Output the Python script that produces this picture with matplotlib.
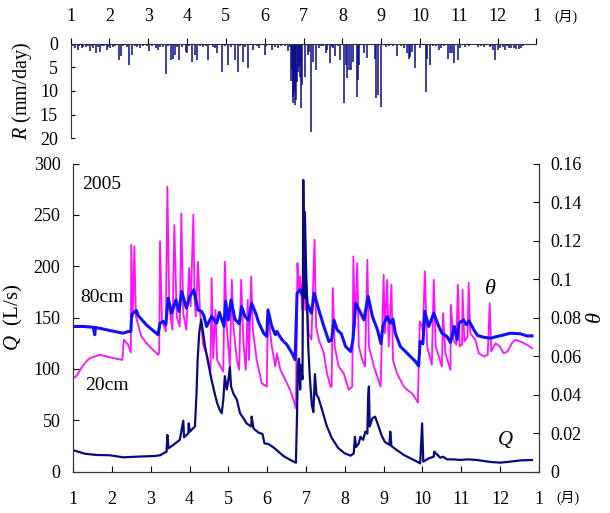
import numpy as np
import matplotlib
matplotlib.use("Agg")
import matplotlib.pyplot as plt

plt.rcParams['font.family'] = ['Liberation Serif', 'Noto Sans CJK JP']
plt.rcParams['mathtext.fontset'] = 'custom'
plt.rcParams['mathtext.rm'] = 'Liberation Serif'
plt.rcParams['mathtext.it'] = 'Liberation Serif:italic'

# time axis is in months (1 = Jan 1st, 13 = next Jan 1st)
month_ticks = list(range(1, 14))
month_labels = [str(m) for m in range(1, 13)] + ['1']

# rainfall R (mm/day)
rain_t = [1.02, 1.12, 1.19, 1.29, 1.40, 1.50, 1.59, 1.66, 1.76, 1.93, 2.02, 2.10,
          2.25, 2.30, 2.51, 2.59, 2.79, 3.03, 3.20, 3.26, 3.45, 3.60, 3.65, 3.69,
          3.80, 3.97, 4.01, 4.12, 4.20, 4.27, 4.55, 4.73, 4.78, 4.89, 5.06, 5.23,
          5.32, 5.43, 5.57, 5.70, 5.86, 6.00, 6.19, 6.34, 6.60, 6.69, 6.71, 6.72,
          6.74, 6.75, 6.77, 6.79, 6.81, 6.83, 6.85, 6.88, 6.90, 6.92, 6.94, 6.97,
          7.04, 7.11, 7.15, 7.20, 7.24, 7.31, 7.39, 7.57, 7.60, 7.67, 7.76, 7.82,
          7.93, 8.04, 8.10, 8.13, 8.18, 8.23, 8.27, 8.38, 8.41, 8.44, 8.55, 8.64,
          8.83, 8.87, 8.91, 9.00, 9.13, 9.41, 9.60, 9.66, 9.71, 9.75, 9.79, 9.88,
          9.99, 10.15, 10.19, 10.26, 10.50, 10.55, 10.72, 10.76, 10.82, 10.88,
          10.97, 11.03, 11.15, 11.49, 11.66, 11.79, 11.89, 11.94, 12.00, 12.06,
          12.13, 12.20, 12.29, 12.35, 12.43, 12.48, 12.56, 12.61]
rain_mm = [1.0, 1.0, 1.4, 0.9, 0.7, 1.6, 1.0, 2.1, 1.8, 1.4, 1.0, 0.7,
           3.5, 2.6, 4.6, 2.5, 1.0, 1.6, 0.9, 1.4, 6.5, 3.5, 3.2, 2.5,
           3.5, 1.8, 2.1, 4.0, 2.5, 3.5, 3.5, 1.0, 2.1, 6.1, 4.6, 3.5,
           6.0, 3.9, 5.1, 1.4, 1.0, 2.5, 1.4, 1.0, 1.6, 8.0, 5.3, 12.5,
           11.2, 9.0, 13.0, 10.2, 12.0, 8.1, 6.0, 5.0, 3.9, 7.0, 13.7, 8.8,
           7.0, 2.5, 1.8, 18.7, 3.9, 5.5, 1.05, 2.1, 1.4, 4.2, 1.05, 2.6,
           3.5, 12.6, 4.6, 7.2, 5.6, 5.6, 3.9, 11.2, 7.6, 4.6, 2.1, 3.0,
           3.2, 11.6, 10.9, 13.5, 0.7, 2.6, 1.05, 2.1, 3.2, 2.8, 1.8, 5.1,
           1.05, 10.2, 3.2, 4.6, 1.4, 1.05, 3.2, 2.1, 2.1, 4.2,
           3.5, 1.05, 0.7, 0.7, 0.7, 0.7, 1.4, 3.5, 1.4, 1.05,
           0.7, 1.4, 1.05, 0.9, 1.05, 1.2, 1.2, 0.9]

# light drizzle records
drizzle_t = [1.06, 1.23, 1.33, 1.46, 1.55, 1.70, 1.80, 1.87, 1.97, 2.15, 2.36, 2.45,
             2.66, 2.72, 2.87, 2.96, 3.09, 3.30, 3.39, 3.52, 3.73, 3.86, 4.06, 4.33,
             4.42, 4.50, 4.67, 4.97, 5.14, 5.36, 5.49, 5.79, 6.04, 6.26, 6.43, 6.52,
             6.64, 7.45, 7.50, 7.74, 7.88, 9.21, 9.30, 9.52, 10.33, 10.42, 10.63,
             11.27, 11.45, 11.58, 11.70, 11.83, 12.24, 12.52, 12.65]
drizzle_mm = [0.6, 0.5, 0.7, 0.5, 0.6, 0.8, 0.5, 0.6, 0.7, 0.5, 0.6, 0.8,
              0.5, 0.7, 0.6, 0.5, 0.6, 0.8, 0.7, 0.6, 0.8, 0.7, 0.6, 0.5,
              0.7, 0.6, 0.8, 0.5, 0.7, 0.6, 0.8, 0.5, 0.6, 0.7, 0.5, 0.6,
              0.8, 0.6, 0.5, 0.7, 0.6, 0.5, 0.6, 0.5, 0.5, 0.6, 0.5,
              0.5, 0.4, 0.5, 0.4, 0.5, 0.5, 0.4, 0.5]

# discharge Q (L/s)
q_t = [1.00, 1.13, 1.30, 1.60, 1.95, 2.29, 2.63, 3.11, 3.24, 3.41, 3.43, 3.46,
       3.58, 3.75, 3.84, 3.86, 3.97, 3.98, 4.01, 4.14, 4.18, 4.21, 4.25, 4.30,
       4.34, 4.40, 4.48, 4.57, 4.65, 4.71, 4.78, 4.83, 4.87, 4.91, 4.96, 5.00,
       5.04, 5.07, 5.13, 5.22, 5.30, 5.39, 5.47, 5.59, 5.60, 5.65, 5.78, 5.88,
       5.93, 6.03, 6.16, 6.29, 6.42, 6.55, 6.68, 6.74, 6.77, 6.79, 6.82, 6.85,
       6.87, 6.91, 6.93, 6.96, 6.97, 7.02, 7.06, 7.10, 7.15, 7.19, 7.23, 7.27,
       7.32, 7.40, 7.53, 7.66, 7.83, 7.99, 8.15, 8.23, 8.26, 8.29, 8.36, 8.40,
       8.47, 8.53, 8.58, 8.60, 8.62, 8.64, 8.71, 8.78, 8.86, 8.95, 9.03, 9.09,
       9.15, 9.17, 9.20, 9.34, 9.52, 9.69, 9.86, 9.94, 9.99, 10.02, 10.16, 10.29,
       10.30, 10.46, 10.53, 10.63, 10.80, 10.97, 11.15, 11.40, 11.75, 12.00,
       12.26, 12.52, 12.82]
q_val = [21, 19.5, 17.5, 16.3, 16, 14, 14.6, 15.3, 16, 19.5, 35.8, 22.8,
         26, 31, 49.7, 33.5, 37.4, 47, 39, 44, 76, 109, 135, 148,
         138, 122, 106, 89, 76, 67, 60, 57, 70, 93, 80, 89,
         102, 83, 76, 70, 57, 52, 47, 44, 53.6, 42, 38, 36.7,
         27.6, 27, 23.7, 19.5, 15.3, 12.4, 9.8, 8.8, 57, 104, 110, 80,
         104, 90, 284, 169, 253, 169, 120, 91, 65, 58, 95, 75,
         72, 62, 45, 33, 23, 18, 15.6, 17.9, 34, 24, 27.6, 34,
         31, 39, 37, 73, 83, 44, 52, 53.6, 45, 35, 29, 27.6,
         26, 39, 25, 21, 16.3, 13, 9.8, 8.1, 47, 9.8, 13, 14.6,
         19.5, 13.6, 14.6, 12, 12, 11.4, 12, 11.4, 9.5, 8.8,
         9.8, 11, 11.4]

# soil moisture theta at 80 cm depth
th80_t = [1.00, 1.26, 1.52, 1.56, 1.58, 1.95, 2.29, 2.42, 2.49, 2.51, 2.63, 2.68,
          2.89, 3.19, 3.24, 3.32, 3.39, 3.45, 3.54, 3.65, 3.73, 3.80, 3.92, 4.01,
          4.11, 4.22, 4.31, 4.37, 4.44, 4.57, 4.70, 4.77, 4.89, 4.93, 5.00, 5.07,
          5.17, 5.28, 5.34, 5.43, 5.52, 5.60, 5.71, 5.78, 5.91, 5.99, 6.02, 6.12,
          6.21, 6.25, 6.38, 6.51, 6.64, 6.72, 6.77, 6.85, 6.92, 6.97, 7.03, 7.14,
          7.21, 7.33, 7.46, 7.59, 7.66, 7.72, 7.80, 7.91, 8.02, 8.15, 8.21, 8.28,
          8.41, 8.49, 8.60, 8.71, 8.84, 8.93, 8.98, 9.09, 9.17, 9.24, 9.30, 9.43,
          9.56, 9.69, 9.82, 9.90, 9.94, 10.01, 10.06, 10.16, 10.29, 10.42, 10.50,
          10.63, 10.72, 10.82, 10.89, 10.94, 11.06, 11.13, 11.20, 11.32, 11.42,
          11.58, 11.75, 11.92, 12.09, 12.26, 12.52, 12.69, 12.82]
th80_val = [0.0754, 0.0754, 0.0750, 0.0711, 0.0749, 0.0733, 0.0719, 0.0728, 0.0728,
            0.0815, 0.0837, 0.0810, 0.0762, 0.0711, 0.0771, 0.0780, 0.0763, 0.0901,
            0.0823, 0.0892, 0.0832, 0.0936, 0.0849, 0.0910, 0.0944, 0.0840, 0.0832,
            0.0810, 0.0754, 0.0806, 0.0771, 0.0827, 0.0754, 0.0884, 0.0788, 0.0892,
            0.0792, 0.0768, 0.0858, 0.0806, 0.0785, 0.0875, 0.0820, 0.0775, 0.0719,
            0.0702, 0.0840, 0.0754, 0.0711, 0.0728, 0.0685, 0.0659, 0.0615, 0.0581,
            0.0927, 0.0944, 0.0910, 0.1048, 0.0875, 0.0823, 0.0927, 0.0840, 0.0754,
            0.0676, 0.0685, 0.0788, 0.0737, 0.0716, 0.0650, 0.0624, 0.0685, 0.0875,
            0.0823, 0.0788, 0.0910, 0.0806, 0.0737, 0.0665, 0.0754, 0.0806, 0.0771,
            0.0792, 0.0719, 0.0650, 0.0624, 0.0598, 0.0572, 0.0549, 0.0676, 0.0664,
            0.0832, 0.0754, 0.0823, 0.0754, 0.0719, 0.0702, 0.0671, 0.0754, 0.0685,
            0.0771, 0.0788, 0.0763, 0.0783, 0.0737, 0.0707, 0.0698, 0.0693, 0.0702,
            0.0710, 0.0719, 0.0716, 0.0705, 0.0705]

# soil moisture theta at 20 cm depth
th20_t = [1.00, 1.09, 1.21, 1.34, 1.43, 1.69, 1.95, 2.27, 2.31, 2.42, 2.49, 2.50,
          2.54, 2.58, 2.62, 2.68, 2.76, 2.93, 3.19, 3.22, 3.24, 3.29, 3.39, 3.43,
          3.48, 3.56, 3.61, 3.67, 3.75, 3.79, 3.84, 3.92, 3.99, 4.03, 4.10, 4.13,
          4.16, 4.22, 4.27, 4.35, 4.46, 4.54, 4.57, 4.61, 4.67, 4.71, 4.87, 4.91,
          4.96, 5.04, 5.09, 5.13, 5.22, 5.28, 5.33, 5.39, 5.45, 5.50, 5.53, 5.59,
          5.63, 5.73, 5.86, 5.99, 6.02, 6.12, 6.21, 6.25, 6.34, 6.47, 6.59, 6.68,
          6.74, 6.78, 6.81, 6.85, 6.90, 6.94, 6.98, 7.03, 7.07, 7.14, 7.22, 7.26,
          7.33, 7.46, 7.54, 7.63, 7.66, 7.69, 7.74, 7.84, 7.97, 8.10, 8.19, 8.22,
          8.26, 8.32, 8.36, 8.45, 8.52, 8.58, 8.62, 8.75, 8.92, 9.00, 9.03, 9.09,
          9.13, 9.20, 9.24, 9.34, 9.43, 9.52, 9.60, 9.73, 9.84, 9.88, 9.93, 9.99,
          10.01, 10.06, 10.12, 10.24, 10.29, 10.34, 10.50, 10.53, 10.59, 10.72,
          10.73, 10.80, 10.87, 10.91, 10.96, 11.02, 11.03, 11.08, 11.16, 11.19,
          11.23, 11.36, 11.45, 11.58, 11.68, 11.73, 11.77, 11.88, 11.99, 12.09,
          12.19, 12.30, 12.39, 12.52, 12.69, 12.82]
th20_val = [0.0485, 0.0497, 0.0537, 0.0572, 0.0589, 0.0607, 0.0594, 0.0580, 0.0685,
            0.0659, 0.0619, 0.1178, 0.0806, 0.1170, 0.0806, 0.0762, 0.0702, 0.0659,
            0.0607, 0.0620, 0.1196, 0.0789, 0.0728, 0.1480, 0.0858, 0.0737, 0.1280,
            0.0806, 0.0754, 0.1340, 0.0823, 0.0737, 0.1057, 0.0858, 0.1334, 0.0900,
            0.0806, 0.1090, 0.0832, 0.0659, 0.0598, 0.0520, 0.1005, 0.0589, 0.0840,
            0.0580, 0.0520, 0.1090, 0.0754, 0.0546, 0.0996, 0.0754, 0.0580, 0.0529,
            0.0996, 0.0667, 0.0529, 0.0892, 0.0580, 0.1014, 0.0737, 0.0580, 0.0459,
            0.0442, 0.0823, 0.0650, 0.0546, 0.0615, 0.0529, 0.0477, 0.0425, 0.0373,
            0.0329, 0.1083, 0.0927, 0.1014, 0.0840, 0.1170, 0.0840, 0.0890, 0.0719,
            0.0685, 0.1204, 0.0754, 0.0685, 0.0615, 0.0511, 0.0442, 0.0442, 0.0953,
            0.0650, 0.0546, 0.0511, 0.0425, 0.0442, 0.1118, 0.0754, 0.1083, 0.0650,
            0.0580, 0.0546, 0.1100, 0.0650, 0.0546, 0.0442, 0.1022, 0.0719, 0.0996,
            0.0650, 0.0970, 0.0580, 0.0511, 0.0477, 0.0442, 0.0425, 0.0407, 0.0373,
            0.0359, 0.0780, 0.0754, 0.0719, 0.1040, 0.0650, 0.0555, 0.0996, 0.0650,
            0.0546, 0.0823, 0.0615, 0.0529, 0.0866, 0.0685, 0.0660, 0.0970, 0.0650,
            0.0660, 0.0944, 0.0676, 0.0700, 0.0980, 0.0719, 0.0685, 0.0615, 0.0598,
            0.0607, 0.0875, 0.0624, 0.0667, 0.0650, 0.0615, 0.0624, 0.0667, 0.0685,
            0.0676, 0.0659, 0.0641]

c_rain = '#0a0a8c'
c_q = '#0a0a80'
c_80 = '#1010ff'
c_20 = '#ff10ff'

fig = plt.figure(figsize=(6.1, 5.13), dpi=100)

# rainfall panel (hanging bars)
axr = fig.add_axes([70.5 / 610, 1 - 138.3 / 513, 466 / 610, 94.8 / 513])
axr.vlines(rain_t + drizzle_t, 0, rain_mm + drizzle_mm, color=c_rain, lw=1.1)
axr.set_xlim(1, 13)
axr.set_ylim(20, 0)
axr.set_yticks([0, 5, 10, 15, 20])
axr.xaxis.tick_top()
axr.set_xticks(month_ticks)
axr.set_xticklabels(month_labels)
axr.tick_params(axis='x', direction='out', length=4, pad=9, labelsize=13)
axr.tick_params(axis='y', direction='in', length=3, pad=9, labelsize=13)
axr.spines['bottom'].set_visible(False)
axr.spines['right'].set_visible(False)
for s in ['top', 'left']:
    axr.spines[s].set_color('#333333')
axr.axhline(0, color=c_rain, lw=1.5)
axr.set_ylabel('$R$ (mm/day)', fontsize=14.5, labelpad=4)

# discharge and soil moisture panel
ax = fig.add_axes([73 / 610, 1 - 471.7 / 513, 466 / 610, 308.2 / 513])
ax2 = ax.twinx()
ax2.plot(th20_t, th20_val, color=c_20, lw=1.3)
ax2.plot(th80_t, th80_val, color=c_80, lw=2.2)
ax.plot(q_t, q_val, color=c_q, lw=1.6)
ax.set_zorder(ax2.get_zorder() + 1)
ax.patch.set_visible(False)

ax.set_xlim(1, 13)
ax.set_ylim(0, 300)
ax2.set_ylim(0, 0.16)
ax.set_xticks(month_ticks)
ax.set_xticklabels(month_labels)
ax.set_yticks(range(0, 301, 50))
ax2.set_yticks(np.arange(0, 0.161, 0.02))
ax2.set_yticklabels(['%g' % round(v, 2) for v in np.arange(0, 0.161, 0.02)])
ax.tick_params(axis='x', direction='in', length=4, pad=14, labelsize=13)
ax.tick_params(axis='y', direction='in', length=4, pad=9, labelsize=13)
ax2.tick_params(axis='y', direction='in', length=4, pad=8, labelsize=13)
for a in (ax, ax2):
    a.spines['top'].set_visible(False)
    for s in ['left', 'right', 'bottom']:
        a.spines[s].set_color('#333333')

ax.set_ylabel('$Q$  (L/s)', fontsize=15, labelpad=6)
ax2.set_ylabel(r'$\theta$', fontsize=16, labelpad=4)

ax.text(0.019, 0.932, '2005', transform=ax.transAxes, fontsize=14, va='center')
ax.text(0.015, 0.565, '80cm', transform=ax.transAxes, fontsize=14, va='center')
ax.text(0.026, 0.279, '20cm', transform=ax.transAxes, fontsize=14, va='center')
ax.text(0.895, 0.59, r'$\theta$', transform=ax.transAxes, fontsize=16,
        ha='center', va='center')
ax.text(0.927, 0.103, '$Q$', transform=ax.transAxes, fontsize=15,
        ha='center', va='center')

fig.text(566 / 610, 1 - 17 / 513, '(月)', fontsize=10, ha='center', va='center')
fig.text(568 / 610, 1 - 498 / 513, '(月)', fontsize=10, ha='center', va='center')

fig.savefig('out.png', dpi=100)
